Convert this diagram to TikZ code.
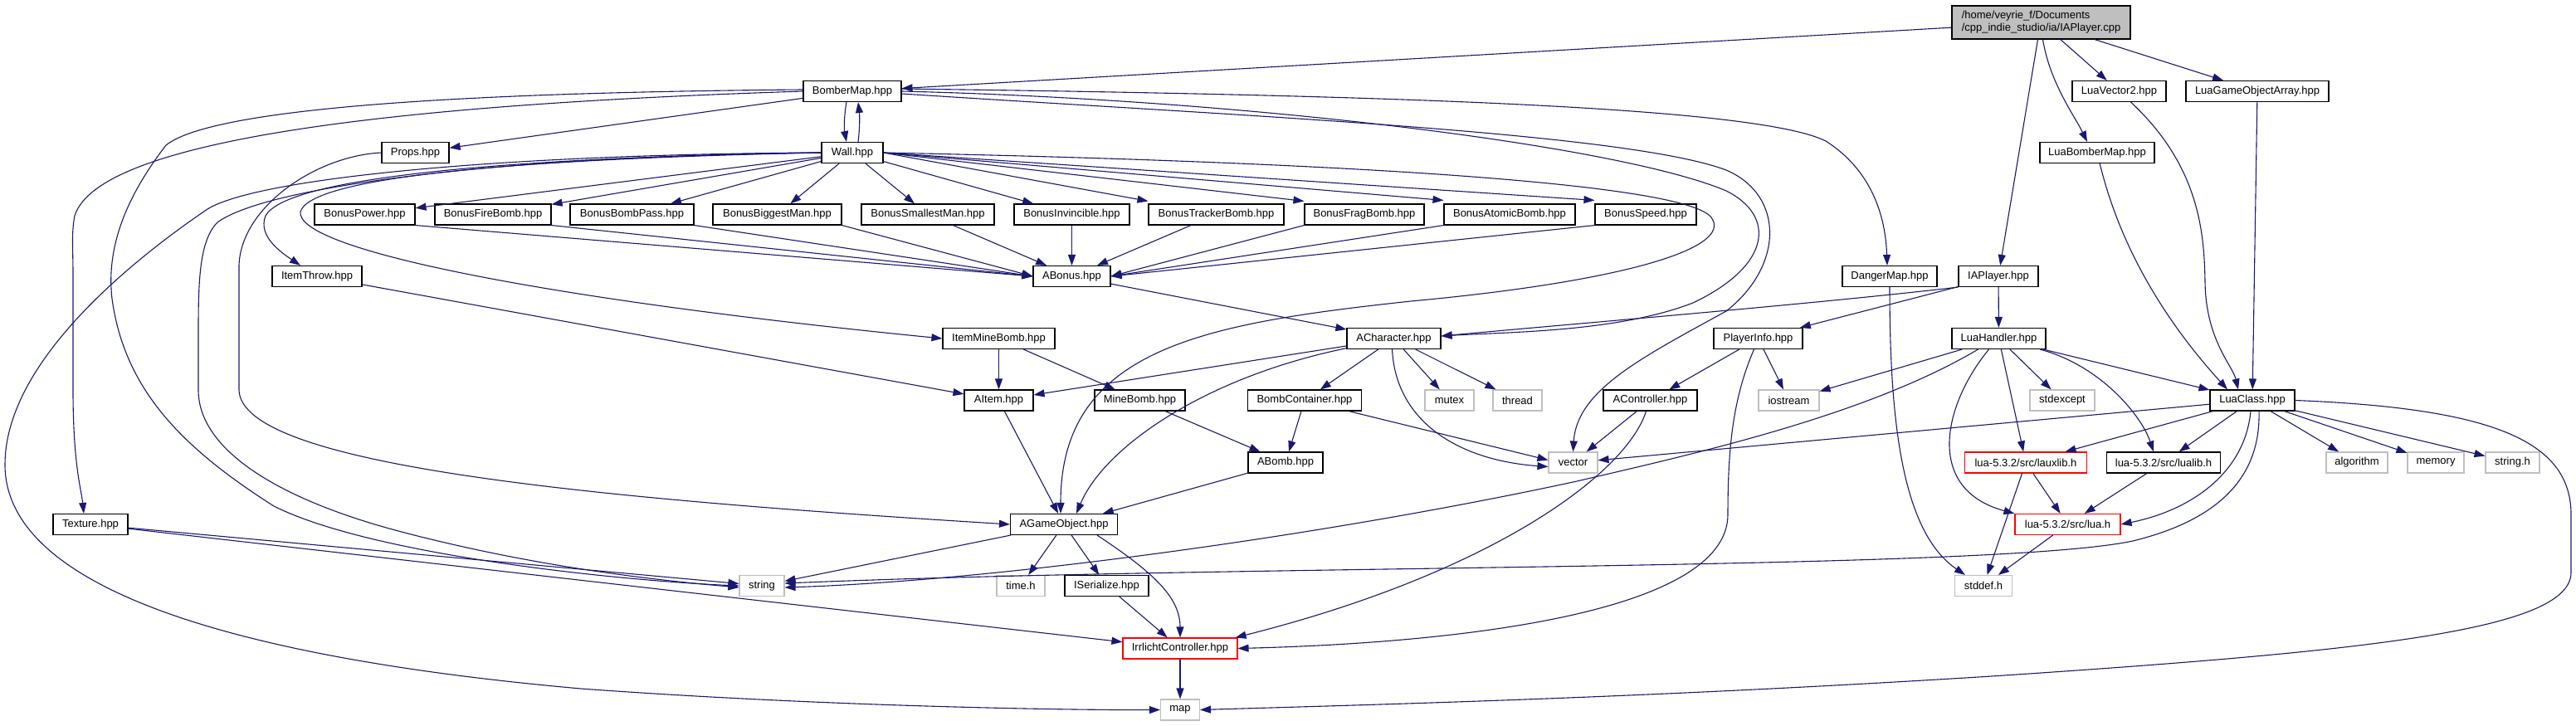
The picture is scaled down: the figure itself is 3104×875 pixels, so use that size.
\documentclass[tikz,border=0pt]{standalone}
\usepackage{fontspec}
\setsansfont{Liberation Sans}
\usepackage{tikz}
\usetikzlibrary{arrows.meta}
\definecolor{depblue}{HTML}{191970}
\newcommand{\hdrfont}{\sffamily\fontsize{13}{15}\selectfont}
\tikzset{
  hdr/.style={draw=black,line width=1.1pt,fill=white,minimum height=25,inner sep=3pt,font=\hdrfont},
  syshdr/.style={hdr,draw=black!25},     % system header
  redhdr/.style={hdr,draw=red},          % truncated graph
  roothdr/.style={hdr,fill=black!25,align=left,minimum height=40},
  dep/.style={draw=depblue,line width=1.1pt,-{Triangle[length=13pt,width=9pt]}},
}

\begin{document}
\begin{tikzpicture}[x=1pt,y=-1pt]
  \useasboundingbox (0,0) rectangle (3104,875);
  % ---- nodes, row by row ----
  \node[roothdr,minimum width=215] (iacpp) at (2459.5,27) {/home/veyrie\_f/Documents\\/cpp\_indie\_studio/ia/IAPlayer.cpp};
  \node[hdr,minimum width=118] (bmap) at (1027,110) {BomberMap.hpp};
  \node[hdr,minimum width=113] (luavec) at (2553.5,110) {LuaVector2.hpp};
  \node[hdr,minimum width=172] (luagoa) at (2720,110) {LuaGameObjectArray.hpp};
  \node[hdr,minimum width=81] (props) at (500.5,184) {Props.hpp};
  \node[hdr,minimum width=74] (wall) at (1027,184) {Wall.hpp};
  \node[hdr,minimum width=138] (luabmap) at (2527,184) {LuaBomberMap.hpp};
  \node[hdr,minimum width=121] (bpower) at (439.5,258.5) {BonusPower.hpp};
  \node[hdr,minimum width=140] (bfire) at (594,258.5) {BonusFireBomb.hpp};
  \node[hdr,minimum width=149] (bpass) at (761.5,258.5) {BonusBombPass.hpp};
  \node[hdr,minimum width=155] (bbig) at (936.5,258.5) {BonusBiggestMan.hpp};
  \node[hdr,minimum width=160] (bsmall) at (1118,258.5) {BonusSmallestMan.hpp};
  \node[hdr,minimum width=139] (binv) at (1291.5,258.5) {BonusInvincible.hpp};
  \node[hdr,minimum width=163] (btrack) at (1465.5,258.5) {BonusTrackerBomb.hpp};
  \node[hdr,minimum width=144] (bfrag) at (1644,258.5) {BonusFragBomb.hpp};
  \node[hdr,minimum width=158] (batom) at (1819,258.5) {BonusAtomicBomb.hpp};
  \node[hdr,minimum width=122] (bspeed) at (1983,258.5) {BonusSpeed.hpp};
  \node[hdr,minimum width=108] (ithrow) at (382,333) {ItemThrow.hpp};
  \node[hdr,minimum width=93] (abonus) at (1291.5,333) {ABonus.hpp};
  \node[hdr,minimum width=114] (dmap) at (2277,333) {DangerMap.hpp};
  \node[hdr,minimum width=96] (iaph) at (2408,333) {IAPlayer.hpp};
  \node[hdr,minimum width=135] (imine) at (1203.5,408) {ItemMineBomb.hpp};
  \node[hdr,minimum width=113] (achar) at (1679.5,408) {ACharacter.hpp};
  \node[hdr,minimum width=107] (pinfo) at (2118.5,408) {PlayerInfo.hpp};
  \node[hdr,minimum width=113] (luahand) at (2408.5,408) {LuaHandler.hpp};
  \node[hdr,minimum width=83] (aitem) at (1203.5,482.5) {AItem.hpp};
  \node[hdr,minimum width=109] (mbomb) at (1373.5,482.5) {MineBomb.hpp};
  \node[hdr,minimum width=137] (bcont) at (1572,482.5) {BombContainer.hpp};
  \node[syshdr,minimum width=59] (mutex) at (1746.5,482.5) {mutex};
  \node[syshdr,minimum width=59] (thread) at (1828.5,482.5) {thread};
  \node[hdr,minimum width=113] (actrl) at (1988.5,482.5) {AController.hpp};
  \node[syshdr,minimum width=73] (iostr) at (2155.5,482.5) {iostream};
  \node[syshdr,minimum width=78] (stdexc) at (2485,482.5) {stdexcept};
  \node[hdr,minimum width=102] (luacls) at (2714,482.5) {LuaClass.hpp};
  \node[hdr,minimum width=90] (abomb) at (1549,557.5) {ABomb.hpp};
  \node[syshdr,minimum width=59] (vector) at (1895.5,557.5) {vector};
  \node[redhdr,minimum width=147] (lauxlib) at (2441,557.5) {lua-5.3.2/src/lauxlib.h};
  \node[hdr,minimum width=137] (lualib) at (2607,557.5) {lua-5.3.2/src/lualib.h};
  \node[syshdr,minimum width=74] (algo) at (2840,557.5) {algorithm};
  \node[syshdr,minimum width=68] (memory) at (2935,557.5) {memory};
  \node[syshdr,minimum width=65] (strh) at (3027.5,557.5) {string.h};
  \node[hdr,minimum width=90] (texture) at (109,632) {Texture.hpp};
  \node[hdr,minimum width=129] (agobj) at (1282,632) {AGameObject.hpp};
  \node[redhdr,minimum width=127] (luah) at (2491.5,632) {lua-5.3.2/src/lua.h};
  \node[syshdr,minimum width=54] (stdstr) at (918,706) {string};
  \node[syshdr,minimum width=58] (timeh) at (1230,706) {time.h};
  \node[hdr,minimum width=101] (iser) at (1333.5,706) {ISerialize.hpp};
  \node[syshdr,minimum width=69] (stddef) at (2390,706) {stddef.h};
  \node[redhdr,minimum width=138] (irr) at (1422,781.5) {IrrlichtController.hpp};
  \node[syshdr,minimum width=47] (stdmap) at (1422,855.5) {map};

  % ---- IAPlayer.cpp ----
  \draw[dep] (iacpp) -- (bmap);
  \draw[dep] ([xshift=2]iacpp.south) .. controls (2470,100) and (2500,140) .. ([xshift=-12]luabmap.north);
  \draw[dep] (iacpp) -- (luavec);
  \draw[dep] (iacpp) -- (luagoa);
  \draw[dep] ([xshift=-4]iacpp.south) -- (iaph);
  % ---- BomberMap.hpp ----
  \draw[dep] ([xshift=-7]bmap.south) .. controls (1017,140) and (1017,155) .. ([xshift=-7]wall.north);
  \draw[dep] (bmap) -- (props);
  \draw[dep] ([yshift=2]bmap.west) .. controls (500,112) and (250,135) .. (200,175) .. controls (150,240) and (128,300) .. (135,360) .. controls (150,470) and (220,540) .. (330,610) .. controls (450,670) and (750,700) .. (stdstr.west);
  \draw[dep] (bmap.west) .. controls (500,125) and (120,165) .. (90,260) .. controls (86,280) and (88,300) .. (88,330) -- (88,470) .. controls (88,560) and (98,590) .. ([xshift=-8]texture.north);
  \draw[dep] ([yshift=3]bmap.east) .. controls (1700,115) and (2120,130) .. (2200,170) .. controls (2255,205) and (2272,260) .. ([xshift=-3]dmap.north);
  \draw[dep] (bmap.east) .. controls (1500,120) and (1950,175) .. (2080,230) .. controls (2140,260) and (2135,320) .. (2040,365) .. controls (1950,400) and (1820,400) .. ([yshift=3]achar.east);
  \draw[dep] ([yshift=-3]bmap.east) .. controls (1500,140) and (1960,160) .. (2080,205) .. controls (2150,235) and (2150,320) .. (2080,375) .. controls (1980,430) and (1900,470) .. (vector.north);
  % ---- Wall.hpp ----
  \draw[dep] ([xshift=7]wall.north) .. controls (1036,155) and (1036,140) .. ([xshift=7]bmap.south);
  \draw[dep] (wall) -- (bpower);
  \draw[dep] (wall) -- (bfire);
  \draw[dep] (wall) -- (bpass);
  \draw[dep] (wall) -- (bbig);
  \draw[dep] (wall) -- (bsmall);
  \draw[dep] (wall) -- (binv);
  \draw[dep] (wall.east) -- ([yshift=3]btrack.north west);
  \draw[dep] (wall.east) -- ([yshift=3]bfrag.north west);
  \draw[dep] (wall.east) -- ([yshift=4]batom.north west);
  \draw[dep] (wall.east) -- ([yshift=4]bspeed.north west);
  \draw[dep] (wall.west) .. controls (600,190) and (345,215) .. (320,260) .. controls (310,285) and (340,305) .. ([xshift=-20]ithrow.north);
  \draw[dep] (wall.west) .. controls (600,192) and (375,215) .. (362,255) .. controls (355,300) and (650,360) .. (imine.west);
  \draw[dep] (wall.east) .. controls (1600,195) and (2030,220) .. (2062,262) .. controls (2090,300) and (1950,340) .. (1700,363) .. controls (1450,390) and (1278,420) .. ([xshift=-4]agobj.north);
  \draw[dep] (wall.west) .. controls (600,188) and (320,225) .. (262,268) .. controls (240,290) and (239,340) .. (239,400) -- (239,470) .. controls (239,540) and (330,600) .. (480,640) .. controls (650,685) and (800,700) .. ([yshift=-2]stdstr.west);
  \draw[dep] (wall.west) .. controls (600,186) and (310,215) .. (250,252) .. controls (150,320) and (6,440) .. (6,560) .. controls (6,700) and (250,790) .. (700,830) .. controls (1000,852) and (1300,856) .. (stdmap.west);
  \draw[dep] (props.west) .. controls (380,188) and (290,250) .. (288,320) -- (288,470) .. controls (290,560) and (700,600) .. (agobj.west);
  % ---- bonuses ----
  \draw[dep] (bpower.south east) -- (abonus.west);
  \draw[dep] (bfire.south east) -- (abonus.west);
  \draw[dep] (bpass.south east) -- (abonus.west);
  \draw[dep] (bbig.south east) -- (abonus.west);
  \draw[dep] (bsmall) -- (abonus);
  \draw[dep] (binv) -- (abonus);
  \draw[dep] (btrack) -- (abonus);
  \draw[dep] (bfrag.south west) -- (abonus.east);
  \draw[dep] (batom.south west) -- (abonus.east);
  \draw[dep] (bspeed.south west) -- (abonus.east);
  \draw[dep] (abonus) -- (achar);
  % ---- items, characters, bombs ----
  \draw[dep] (ithrow) -- (aitem);
  \draw[dep] (imine) -- (aitem);
  \draw[dep] (imine) -- (mbomb);
  \draw[dep] (achar) -- (aitem);
  \draw[dep] (achar) .. controls (1450,455) and (1330,540) .. ([xshift=15]agobj.north);
  \draw[dep] (achar) -- (bcont);
  \draw[dep] (achar) -- (mutex);
  \draw[dep] (achar) -- (thread);
  \draw[dep] ([xshift=-2]achar.south) .. controls (1682,510) and (1760,555) .. ([yshift=-5]vector.west);
  \draw[dep] (aitem) -- (agobj);
  \draw[dep] (mbomb) -- (abomb);
  \draw[dep] (bcont) -- (abomb);
  \draw[dep] (bcont) -- ([yshift=3]vector.west);
  \draw[dep] (abomb) -- (agobj);
  \draw[dep] (agobj) -- (stdstr);
  \draw[dep] (agobj) -- (timeh);
  \draw[dep] (agobj) -- (iser);
  \draw[dep] ([xshift=40]agobj.south) .. controls (1390,690) and (1422,720) .. (irr.north);
  \draw[dep] (iser) -- (irr);
  \draw[dep] (irr) -- (stdmap);
  \draw[dep] (texture) -- (stdstr);
  \draw[dep] (texture) -- (irr);
  \draw[dep] (dmap.south) .. controls (2277,500) and (2290,640) .. ([xshift=-22]stddef.north);
  % ---- IAPlayer.hpp ----
  \draw[dep] (iaph.south west) .. controls (2200,365) and (1900,390) .. ([yshift=3]achar.east);
  \draw[dep] (iaph) -- (pinfo);
  \draw[dep] (iaph) -- (luahand);
  \draw[dep] (pinfo) -- (actrl);
  \draw[dep] (pinfo) -- (iostr);
  \draw[dep] ([xshift=-5]pinfo.south) .. controls (2088,480) and (2082,540) .. (2082,620) .. controls (2082,740) and (1750,775) .. (irr.east);
  \draw[dep] (actrl) -- (vector);
  \draw[dep] ([xshift=-5]actrl.south) .. controls (1960,570) and (1800,690) .. ([xshift=-3]irr.north east);
  % ---- Lua ----
  \draw[dep] (luahand) -- (iostr);
  \draw[dep] ([xshift=-25]luahand.south) .. controls (2250,500) and (2050,545) .. (1900,580) .. controls (1600,645) and (1200,700) .. ([yshift=-2]stdstr.east);
  \draw[dep] ([xshift=-12]luahand.south) .. controls (2340,490) and (2320,590) .. (luah.north west);
  \draw[dep] (luahand) -- (lauxlib);
  \draw[dep] (luahand) -- (stdexc);
  \draw[dep] (luahand) .. controls (2530,440) and (2580,500) .. ([xshift=-12]lualib.north);
  \draw[dep] (luahand) -- (luacls);
  \draw[dep] (luavec) .. controls (2650,200) and (2656,280) .. (2657,340) .. controls (2658,410) and (2690,440) .. ([xshift=-17]luacls.north);
  \draw[dep] (luabmap) .. controls (2560,320) and (2630,410) .. ([xshift=-30]luacls.north);
  \draw[dep] (luagoa) -- (luacls);
  \draw[dep] (luacls) -- (vector);
  \draw[dep] ([xshift=8]luacls.south) .. controls (2724,570) and (2680,625) .. (2570,652) .. controls (2400,688) and (1500,680) .. ([yshift=3]stdstr.east);
  \draw[dep] (luacls) -- (lauxlib);
  \draw[dep] (luacls) -- (lualib);
  \draw[dep] ([xshift=-2]luacls.south) .. controls (2705,570) and (2640,615) .. (luah.east);
  \draw[dep] (luacls) -- (algo);
  \draw[dep] (luacls) -- (memory);
  \draw[dep] (luacls) -- (strh);
  \draw[dep] (luacls.east) .. controls (3000,492) and (3098,530) .. (3098,620) -- (3098,690) .. controls (3098,760) and (2850,785) .. (2400,815) .. controls (2000,840) and (1700,848) .. (stdmap.east);
  \draw[dep] (lauxlib) -- (luah);
  \draw[dep] (lauxlib) -- (stddef);
  \draw[dep] (lualib) -- (luah);
  \draw[dep] (luah) -- (stddef);
\end{tikzpicture}
\end{document}
